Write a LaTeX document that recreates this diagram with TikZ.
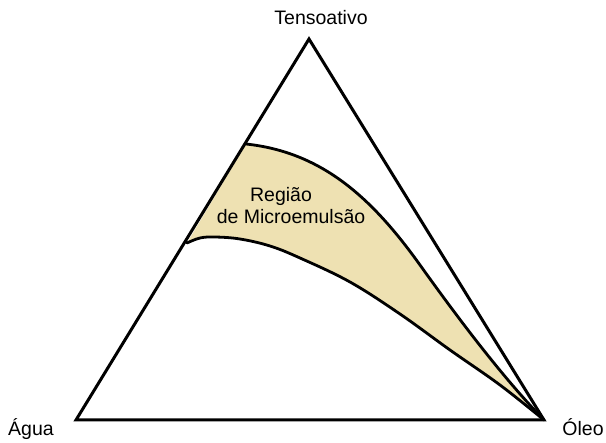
\documentclass[tikz,border=0pt]{standalone}
\usepackage{fontspec}
\setmainfont{Liberation Sans}
\definecolor{mefill}{RGB}{238,225,178}
\begin{document}
\begin{tikzpicture}[x=1pt,y=-1pt,
  edge/.style={line width=3pt, line join=miter},
  curve/.style={line width=2.8pt, line cap=round},
  lab/.style={font=\fontsize{19.5}{22}\selectfont, anchor=base, inner sep=0pt}]
\useasboundingbox (0,0) rectangle (606,443);
\coordinate (T) at (309,39);
\coordinate (W) at (76,420);
\coordinate (O) at (544,420);
\coordinate (U) at (246,144);
\coordinate (L) at (187,243);
% microemulsion region
\fill[mefill] (U) .. controls (320,152) and (370,195) .. (420,265) .. controls (470,335) and (510,385) .. (O)
  -- plot[smooth, tension=0.6] coordinates {(544,420) (500,385) (450,350) (400,314) (350,282) (300,258) (270,246) (240,239) (215,237) (200,238) (187,243)}
  -- cycle;
\draw[curve] (U) .. controls (320,152) and (370,195) .. (420,265) .. controls (470,335) and (510,385) .. (O);
\draw[curve] plot[smooth, tension=0.6] coordinates {(544,420) (500,385) (450,350) (400,314) (350,282) (300,258) (270,246) (240,239) (215,237) (200,238) (187,243)};
% triangle
\draw[edge] (T) -- (W) -- (O) -- cycle;
% labels
\node[lab] (tens) at (321,25) {Tensoativo};
\node[lab] (agua) at (31,436) {Água};
\node[lab] (oleo) at (583,436) {Óleo};
\node[lab] (reg1) at (281,202) {Região};
\node[lab] (reg2) at (291,224) {de Microemulsão};
\end{tikzpicture}
\end{document}
